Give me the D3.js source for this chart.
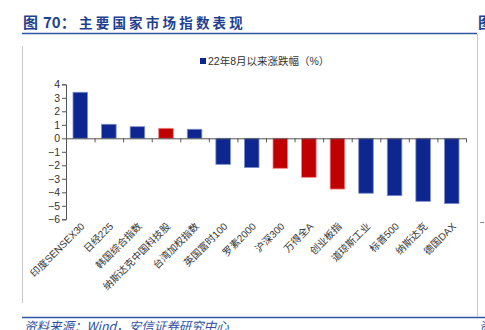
<!DOCTYPE html>
<html><head><meta charset="utf-8">
<script src="https://cdn.jsdelivr.net/npm/d3@7"></script>
<style>body{margin:0;background:#fff}svg{display:block}</style>
</head><body>
<svg id="c" width="485" height="330"></svg>
<script>
const categories = ["印度SENSEX30","日经225","韩国综合指数","纳斯达克中国科技股","台湾加权指数","英国富时100","罗素2000","沪深300","万得全A","创业板指","道琼斯工业","标普500","纳斯达克","德国DAX"];
const values = [3.41, 1.04, 0.86, 0.74, 0.67, -1.93, -2.17, -2.22, -2.89, -3.76, -4.07, -4.25, -4.67, -4.84];
const isChina = [false,false,false,true,false,false,false,true,true,true,false,false,false,false];
const yTicks = [4,3,2,1,0,-1,-2,-3,-4,-5,-6];
const seriesName = "22年8月以来涨跌幅（%）";

const svg = d3.select("#c");
const blue = "#0D2690", red = "#C00000", titleBlue = "#1F3F8F";
const font = "'Liberation Sans', Arial, 'Noto Sans CJK SC', sans-serif";

// frame lines
svg.append("line").attr("x1",22).attr("x2",477).attr("y1",33.5).attr("y2",33.5).attr("stroke","#2F55A4").attr("stroke-width",1.5);
svg.append("line").attr("x1",22).attr("x2",485).attr("y1",317.5).attr("y2",317.5).attr("stroke","#2F55A4").attr("stroke-width",1.5);
svg.append("line").attr("x1",22.5).attr("x2",22.5).attr("y1",46).attr("y2",303).attr("stroke","#C8C8C8");
svg.append("line").attr("x1",477.5).attr("x2",477.5).attr("y1",34).attr("y2",317).attr("stroke","#C8C8C8");
svg.append("line").attr("x1",480).attr("x2",484).attr("y1",222.5).attr("y2",222.5).attr("stroke","#888");

// title
const t = svg.append("text").attr("x",23).attr("y",28).attr("fill",titleBlue)
  .attr("font-family","'Noto Sans CJK SC', sans-serif").attr("font-weight","bold").attr("font-size",15);
t.append("tspan").text("图");
t.append("tspan").attr("x",43).text("70：");
t.append("tspan").attr("x",79).attr("letter-spacing",3.2).attr("font-size",13.5).text("主要国家市场指数表现");
svg.append("text").attr("x",478).attr("y",28).attr("fill",titleBlue).attr("font-family","'Noto Sans CJK SC'").attr("font-weight","bold").attr("font-size",15).text("图");

// source
svg.append("text").attr("x",24).attr("y",331).attr("fill","#2F4FA0")
  .attr("font-family","'Noto Sans CJK SC', sans-serif").attr("font-style","italic").attr("font-size",12.5)
  .text("资料来源：Wind，安信证券研究中心");
svg.append("text").attr("x",479).attr("y",331).attr("fill","#2F4FA0").attr("font-family","'Noto Sans CJK SC'").attr("font-style","italic").attr("font-size",12.5).text("资");

// scales
const x = d3.scaleBand().domain(categories).range([66,466]).paddingInner(0.49).paddingOuter(0.245);
const y = d3.scaleLinear().domain([-6,4]).range([219.3,84.3]);

// y axis
const ya = svg.append("g").attr("transform","translate(66,0)")
  .call(d3.axisLeft(y).tickValues(yTicks).tickSize(4).tickFormat(d3.format("d")));
ya.select(".domain").attr("stroke","#555");
ya.selectAll(".tick line").attr("stroke","#555");
ya.selectAll("text").attr("font-family",font).attr("font-size",10.5).attr("fill","#333").attr("x",-6);

// bars
svg.append("g").selectAll("rect").data(values).join("rect")
  .attr("x",(d,i)=>x(categories[i]))
  .attr("width",x.bandwidth())
  .attr("y",d=>y(Math.max(0,d)))
  .attr("height",d=>Math.abs(y(d)-y(0)))
  .attr("fill",(d,i)=>isChina[i]?red:blue)
  .attr("stroke",(d,i)=>isChina[i]?"#F08080":"#7F90D0")
  .attr("stroke-width",0.8);

// x axis at zero
const step = x.step();
const xa = svg.append("g");
xa.append("line").attr("x1",66).attr("x2",466).attr("y1",y(0)+0.5).attr("y2",y(0)+0.5).attr("stroke","#555");
xa.selectAll(".tk").data(d3.range(categories.length+1).slice(1)).join("line")
  .attr("x1",i=>66+i*step+0.5).attr("x2",i=>66+i*step+0.5)
  .attr("y1",y(0)).attr("y2",y(0)+4).attr("stroke","#555");

// x labels
svg.append("g").selectAll("text").data(categories).join("text")
  .attr("transform",d=>`translate(${x(d)+x.bandwidth()/2+5},${227}) rotate(-45)`)
  .attr("text-anchor","end").attr("font-family",font).attr("font-size",10).attr("fill","#333")
  .text(d=>d);

// legend
svg.append("rect").attr("x",200).attr("y",58).attr("width",6).attr("height",6).attr("fill",blue);
svg.append("text").attr("x",208).attr("y",65).attr("font-family",font).attr("font-size",10.5).attr("fill","#333").text(seriesName);
</script>
</body></html>
